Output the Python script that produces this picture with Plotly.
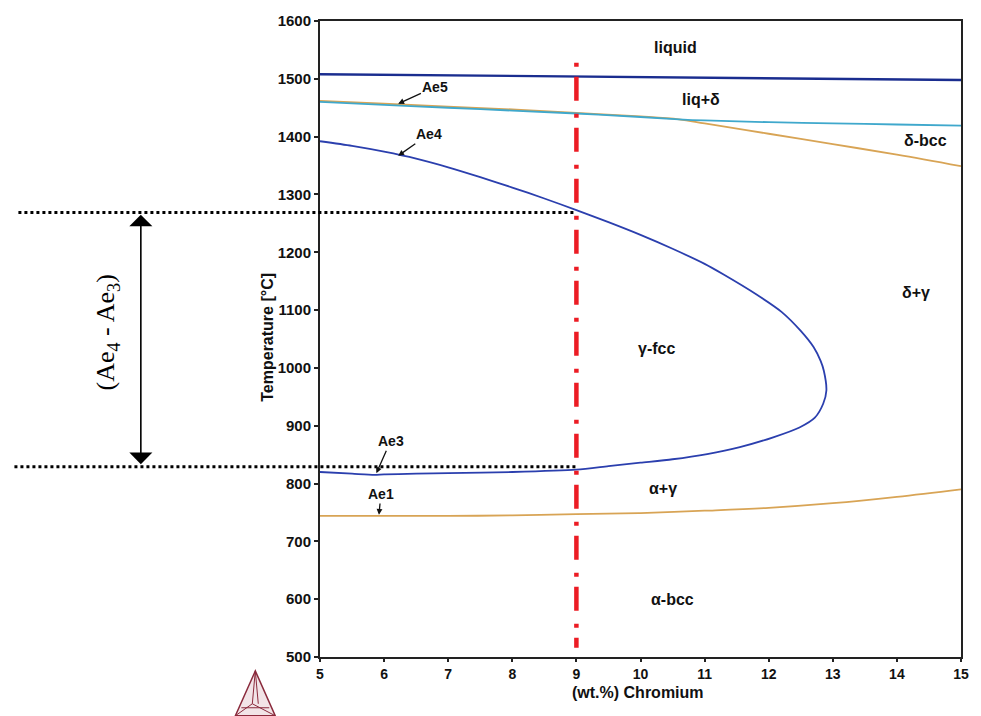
import plotly.graph_objects as go

# ---------------- data ----------------
liq_cr = [5, 6, 7, 8, 9, 10, 11, 12, 13, 14, 15]
liq_T = [1508, 1507, 1506, 1505, 1503, 1502, 1501, 1500, 1499, 1498, 1498]

cyan_cr = [5, 6, 7, 8, 9, 10, 10.6, 11, 12, 13, 14, 15]
cyan_T = [1460, 1455, 1450, 1445, 1440, 1434, 1430, 1428, 1425, 1423, 1421, 1419]

ae5_cr = [5, 6, 7, 8, 9, 10, 10.6, 11, 12, 13, 14, 15]
ae5_T = [1462, 1457, 1452, 1447, 1441, 1435, 1430, 1423, 1405, 1387, 1369, 1349]

loop_cr = [5, 5.5, 6, 6.5, 7, 7.5, 8, 8.5, 9, 9.5, 10, 10.5, 11, 11.29, 11.81,
           12.2, 12.5, 12.7, 12.81, 12.86, 12.9, 12.85, 12.72, 12.48, 12.07, 11.55,
           11.04, 10.5, 10, 9.5, 9, 8, 7, 6.5, 6, 5.85, 5.5, 5]
loop_T = [1392, 1384, 1374, 1362, 1347, 1330, 1312, 1293, 1273, 1252, 1230, 1206,
          1180, 1162, 1127, 1097, 1064, 1036, 1012, 995, 961, 938, 914, 897, 880,
          863, 851, 842, 836, 830, 824, 820, 818, 817, 816, 815, 817, 820]

ae1_cr = [5, 6, 7, 8, 9, 10, 11, 12, 13, 14, 15]
ae1_T = [744, 744, 744, 745, 747, 749, 753, 758, 766, 777, 790]

section_cr = 9
section_T = [1528, 516]
ae4_level = 1269
ae3_level = 829

x_range = [5, 15]
y_range = [500, 1600]
x_ticks = [5, 6, 7, 8, 9, 10, 11, 12, 13, 14, 15]
y_ticks = [500, 600, 700, 800, 900, 1000, 1100, 1200, 1300, 1400, 1500, 1600]

region_labels = ["liquid", "liq+δ", "δ-bcc", "δ+γ", "γ-fcc", "α+γ", "α-bcc"]
region_cr = [10.55, 10.95, 14.45, 14.3, 10.25, 10.35, 10.5]
region_T = [1555, 1464, 1394, 1130, 1033, 792, 600]

point_labels = ["Ae5", "Ae4", "Ae3", "Ae1"]
point_tip_cr = [6.22, 6.22, 5.88, 5.92]
point_tip_T = [1457, 1367, 818, 746]
point_txt_cr = [6.8, 6.7, 6.1, 5.95]
point_txt_T = [1486, 1404, 873, 782]

# ---------------- figure ----------------
FONT = "Liberation Sans, Arial, sans-serif"
L, R, T, B = 320, 17, 18, 59
W, H = 981, 716
PW, PH = W - L - R, H - T - B


def px_x(px):
    return (px - L) / PW


def px_y(py):
    return (H - B - py) / PH


def cr_paper(c):
    return (c - x_range[0]) / (x_range[1] - x_range[0])


fig = go.Figure()

fig.add_trace(go.Scatter(x=ae1_cr, y=ae1_T, mode="lines", line_shape="spline",
                         line=dict(color="#d8a455", width=1.8), hoverinfo="skip"))
fig.add_trace(go.Scatter(x=ae5_cr, y=ae5_T, mode="lines", line_shape="spline",
                         line=dict(color="#d8a455", width=1.8), hoverinfo="skip"))
fig.add_trace(go.Scatter(x=cyan_cr, y=cyan_T, mode="lines", line_shape="spline",
                         line=dict(color="#3fa8cc", width=1.8), hoverinfo="skip"))
fig.add_trace(go.Scatter(x=liq_cr, y=liq_T, mode="lines",
                         line=dict(color="#1a2d8f", width=2.4), hoverinfo="skip"))
fig.add_trace(go.Scatter(x=loop_cr, y=loop_T, mode="lines", line_shape="spline",
                         line=dict(color="#2b3fae", width=1.8, smoothing=0.7),
                         hoverinfo="skip"))
fig.add_trace(go.Scatter(x=[section_cr, section_cr], y=section_T, mode="lines",
                         line=dict(color="#ec1c24", width=4.5,
                                   dash="4px,10px,24px,13px"),
                         hoverinfo="skip"))

shapes = []
for lvl, left_px in [(ae4_level, 17), (ae3_level, 13)]:
    shapes.append(dict(type="line", xref="paper", yref="y",
                       x0=px_x(left_px), x1=cr_paper(section_cr), y0=lvl, y1=lvl,
                       line=dict(color="black", width=3, dash="3px,3px")))

# Thermo-Calc style logo (decorative)
lx = px_x
ly = px_y
logo_col = "#8a2a3c"
shapes.append(dict(type="path", xref="paper", yref="paper",
                   path=f"M {lx(255)},{ly(671)} L {lx(235)},{ly(716)} L {lx(275)},{ly(716)} Z",
                   line=dict(color=logo_col, width=1.5), fillcolor="rgba(190,120,135,0.2)"))
shapes.append(dict(type="path", xref="paper", yref="paper",
                   path=f"M {lx(255)},{ly(671)} L {lx(252)},{ly(704)} L {lx(235)},{ly(716)} "
                        f"M {lx(252)},{ly(704)} L {lx(275)},{ly(716)} "
                        f"M {lx(255)},{ly(671)} L {lx(258)},{ly(704)} "
                        f"M {lx(241)},{ly(708)} L {lx(269)},{ly(708)}",
                   line=dict(color=logo_col, width=1)))

annotations = []
for txt, c, t in zip(region_labels, region_cr, region_T):
    annotations.append(dict(x=c, y=t, xref="x", yref="y", text=txt, showarrow=False,
                            xanchor="center", yanchor="middle",
                            font=dict(family=FONT, size=16, color="#111", weight="bold")))

for txt, xc, yc, tx, ty in zip(point_labels, point_tip_cr, point_tip_T, point_txt_cr, point_txt_T):
    annotations.append(dict(x=xc, y=yc, xref="x", yref="y", ax=tx, ay=ty,
                            axref="x", ayref="y", text=txt, showarrow=True,
                            arrowhead=2, arrowsize=0.9, arrowwidth=1.3, arrowcolor="#111",
                            standoff=0,
                            font=dict(family=FONT, size=14, color="#111", weight="bold")))

# axis titles
annotations.append(dict(x=px_x(267), y=px_y(336), xref="paper", yref="paper",
                        xanchor="center", yanchor="middle",
                        text="Temperature [°C]", textangle=-90, showarrow=False,
                        font=dict(family=FONT, size=16, color="#111", weight="bold")))
annotations.append(dict(x=px_x(639), y=px_y(693), xref="paper", yref="paper",
                        xanchor="center", yanchor="middle",
                        text="(wt.%) Chromium", showarrow=False,
                        font=dict(family=FONT, size=16, color="#111", weight="bold")))

# double arrow and (Ae4 - Ae3) label
annotations.append(dict(x=px_x(140), y=ae4_level - 4, xref="paper", yref="y",
                        ax=0, ay=(ae4_level - ae3_level - 8) * PH / (y_range[1] - y_range[0]),
                        axref="pixel", ayref="pixel",
                        text="", showarrow=True, arrowhead=1, arrowsize=2.4, arrowwidth=1.6,
                        arrowside="end+start", arrowcolor="black", standoff=0, startstandoff=0))
annotations.append(dict(x=px_x(106), y=px_y(331), xref="paper", yref="paper",
                        xanchor="center", yanchor="middle",
                        text="(Ae<sub>4</sub> - Ae<sub>3</sub>)", textangle=-90, showarrow=False,
                        font=dict(family="Liberation Serif, Times New Roman, serif", size=26,
                                  color="black")))

fig.update_layout(
    width=W, height=H,
    margin=dict(l=L, r=R, t=T, b=B),
    paper_bgcolor="white", plot_bgcolor="white",
    showlegend=False,
    shapes=shapes,
    annotations=annotations,
    xaxis=dict(range=x_range, tickvals=x_ticks, showgrid=False, zeroline=False,
               showline=True, linecolor="#222", linewidth=2, mirror=True,
               ticks="outside", ticklen=3, tickwidth=1.5, tickcolor="#222",
               tickfont=dict(family=FONT, size=14, color="#111", weight="bold")),
    yaxis=dict(range=y_range, tickvals=y_ticks, showgrid=False, zeroline=False,
               showline=True, linecolor="#222", linewidth=2, mirror=True,
               ticks="outside", ticklen=4, tickwidth=1.5, tickcolor="#222",
               tickfont=dict(family=FONT, size=15, color="#111", weight="bold")),
)

fig.write_html("out.html")
